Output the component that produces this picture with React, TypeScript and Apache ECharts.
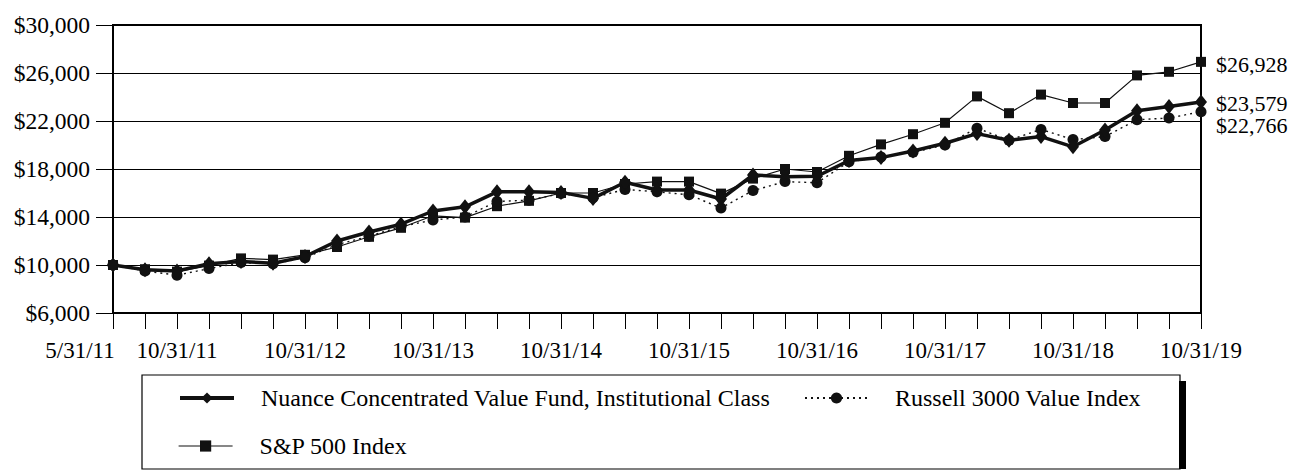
import React, { useEffect, useRef } from "react";
import * as echarts from "echarts";

const categories = [
  "5/31/11", "7/31/11", "10/31/11", "1/31/12", "4/30/12", "7/31/12", "10/31/12",
  "1/31/13", "4/30/13", "7/31/13", "10/31/13", "1/31/14", "4/30/14", "7/31/14",
  "10/31/14", "1/31/15", "4/30/15", "7/31/15", "10/31/15", "1/31/16", "4/30/16",
  "7/31/16", "10/31/16", "1/31/17", "4/30/17", "7/31/17", "10/31/17", "1/31/18",
  "4/30/18", "7/31/18", "10/31/18", "1/31/19", "4/30/19", "7/31/19", "10/31/19",
];

const fundName = "Nuance Concentrated Value Fund, Institutional Class";
const russellName = "Russell 3000 Value Index";
const spName = "S&P 500 Index";

const fundValues = [
  10000, 9600, 9500, 10100, 10300, 10150, 10700, 12000, 12750, 13400, 14500, 14850,
  16100, 16100, 16050, 15550, 16900, 16250, 16250, 15500, 17500, 17350, 17400, 18700,
  18950, 19500, 20150, 20950, 20400, 20700, 19850, 21250, 22850, 23200, 23579,
];
const russellValues = [
  10000, 9500, 9150, 9700, 10200, 10100, 10600, 11700, 12400, 13200, 13750, 14000,
  15300, 15400, 15950, 15600, 16300, 16100, 15850, 14750, 16200, 16950, 16850, 18600,
  19000, 19400, 20000, 21400, 20400, 21300, 20450, 20700, 22100, 22250, 22766,
];
const spValues = [
  10000, 9650, 9450, 9950, 10550, 10450, 10850, 11500, 12350, 13100, 14100, 13950,
  14900, 15350, 16000, 16000, 16750, 16950, 16950, 15950, 17200, 18000, 17750, 19100,
  20050, 20900, 21850, 24050, 22650, 24200, 23500, 23500, 25800, 26100, 26928,
];

const FONT = '"Liberation Serif", "Times New Roman", serif';
const money = (v: number) => "$" + Math.round(v).toLocaleString("en-US");

export default function App() {
  const ref = useRef<HTMLDivElement>(null);
  useEffect(() => {
    if (!ref.current) return;
    const chart = echarts.init(ref.current, undefined, { renderer: "svg" });
    const legendText = { fontFamily: FONT, fontSize: 24, color: "#000", padding: [0, 0, 0, 22] };
    const legendBase = {
      orient: "horizontal",
      itemWidth: 54,
      itemHeight: 14,
      padding: 0,
      textStyle: legendText,
      inactiveColor: "#000",
      selectedMode: false,
    };
    const endLabel = (dy: number) => ({
      show: true,
      formatter: (p: any) => money(p.value),
      fontFamily: FONT,
      fontSize: 22,
      color: "#000",
      distance: 15,
      offset: [0, dy],
    });
    chart.setOption({
      animation: false,
      backgroundColor: "#fff",
      textStyle: { fontFamily: FONT, color: "#000" },
      grid: {
        left: 113,
        right: 96,
        top: 25,
        bottom: 161,
        show: true,
        borderColor: "#000",
        borderWidth: 2,
        containLabel: false,
      },
      legend: [
        {
          ...legendBase,
          data: [{ name: fundName, lineStyle: { width: 4 } }],
          left: 178,
          top: 386,
        },
        {
          ...legendBase,
          itemWidth: 63,
          data: [{ name: russellName }],
          left: 804,
          top: 386,
        },
        {
          ...legendBase,
          data: [{ name: spName, lineStyle: { width: 1.2 } }],
          left: 178,
          top: 434,
        },
      ],
      xAxis: {
        type: "category",
        data: categories,
        boundaryGap: false,
        axisLine: { lineStyle: { color: "#000", width: 2 } },
        axisTick: { show: true, interval: 0, length: 16, lineStyle: { color: "#000", width: 1 } },
        axisLabel: {
          interval: 0,
          formatter: (v: string, i: number) =>
            i === 0 ? "{first|" + v + "}" : v.startsWith("10/31") ? v : "",
          rich: {
            first: { fontFamily: FONT, fontSize: 23, color: "#000", padding: [0, 66, 0, 0] },
          },
          fontFamily: FONT,
          fontSize: 23,
          color: "#000",
          margin: 26,
          hideOverlap: false,
        },
        splitLine: { show: false },
      },
      yAxis: {
        type: "value",
        min: 6000,
        max: 30000,
        interval: 4000,
        axisLine: { show: true, lineStyle: { color: "#000", width: 2 } },
        axisTick: { show: true, length: 17, lineStyle: { color: "#000", width: 1 } },
        axisLabel: {
          formatter: (v: number) => money(v),
          fontFamily: FONT,
          fontSize: 23.5,
          color: "#000",
          margin: 23,
        },
        splitLine: { show: true, lineStyle: { color: "#000", width: 1 } },
      },
      graphic: [
        {
          type: "rect",
          shape: { x: 142, y: 375, width: 1038, height: 94 },
          style: { fill: "none", stroke: "#000", lineWidth: 1.2 },
        },
        {
          type: "rect",
          shape: { x: 1179, y: 381, width: 7, height: 88 },
          style: { fill: "#000" },
        },
      ],
      series: [
        {
          name: spName,
          type: "line",
          data: spValues,
          symbol: "rect",
          symbolSize: 10,
          z: 3,
          itemStyle: { color: "#111" },
          lineStyle: { color: "#111", width: 1.2 },
          endLabel: endLabel(3),
        },
        {
          name: russellName,
          type: "line",
          data: russellValues,
          symbol: "circle",
          symbolSize: 11,
          z: 4,
          itemStyle: { color: "#111" },
          lineStyle: { color: "#111", width: 1.4, type: [2, 4] },
          endLabel: endLabel(14),
        },
        {
          name: fundName,
          type: "line",
          data: fundValues,
          symbol: "diamond",
          symbolSize: [12, 15],
          z: 5,
          itemStyle: { color: "#111" },
          lineStyle: { color: "#111", width: 3.5 },
          endLabel: endLabel(1),
        },
      ],
    });
    return () => chart.dispose();
  }, []);
  return (
    <div
      ref={ref}
      style={{ position: "fixed", left: 0, top: 0, width: 1297, height: 474, background: "#fff" }}
    />
  );
}
